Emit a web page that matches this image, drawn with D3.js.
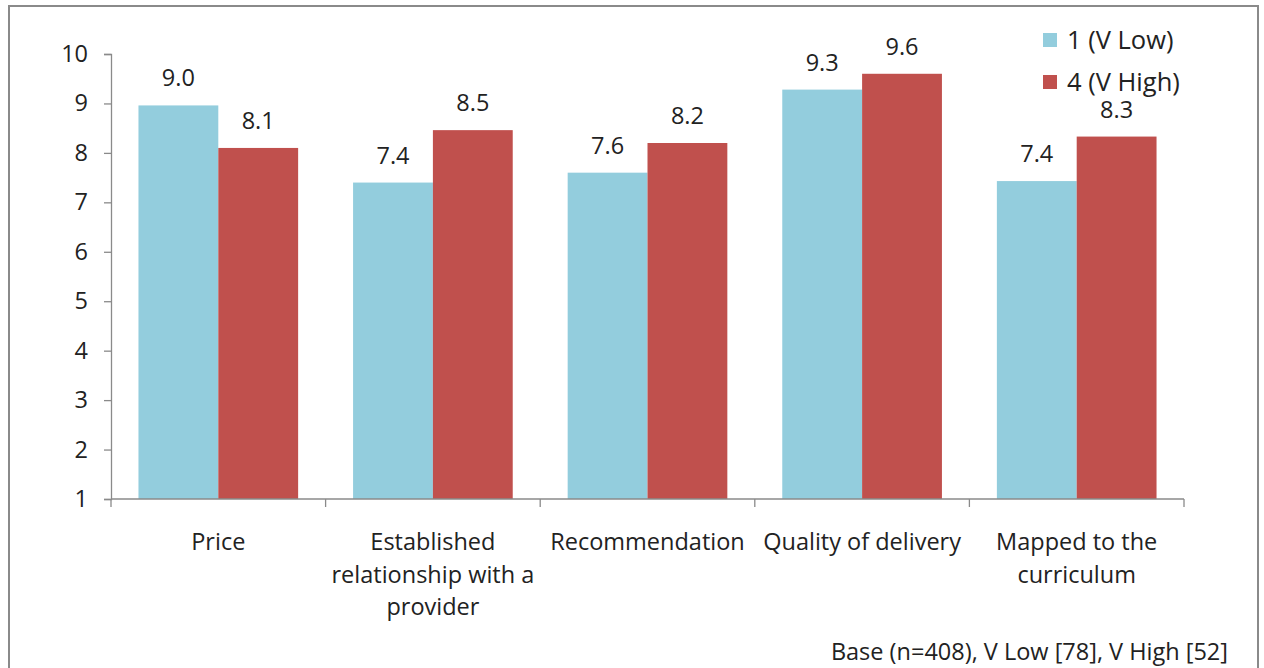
<!DOCTYPE html>
<html>
<head>
<meta charset="utf-8">
<script src="https://cdn.jsdelivr.net/npm/d3@7"></script>
<style>
  html, body { margin: 0; padding: 0; background: #fff; }
  svg { display: block; }
  text { font-family: "Open Sans", "Liberation Sans", sans-serif; fill: #222; }
</style>
</head>
<body>
<svg id="chart" width="1264" height="668"></svg>
<script>
const categories = ["Price", "Established relationship with a provider", "Recommendation", "Quality of delivery", "Mapped to the curriculum"];
const seriesNames = ["1 (V Low)", "4 (V High)"];
const vLow  = [8.96, 7.40, 7.60, 9.28, 7.43];
const vHigh = [8.10, 8.46, 8.20, 9.60, 8.33];
const yTicks = [1, 2, 3, 4, 5, 6, 7, 8, 9, 10];
const footnote = "Base (n=408), V Low [78], V High [52]";
const colors = ["#93CDDD", "#C0504D"];

(function () {
const svg = d3.select("#chart");
const FS = "23.5px";

// outer frame
svg.append("rect")
  .attr("x", 9).attr("y", 6).attr("width", 1249).attr("height", 700)
  .attr("fill", "none").attr("stroke", "#8a8a8a").attr("stroke-width", 2);

const pLeft = 111, pRight = 1184, pTop = 54, pBottom = 499;

const x = d3.scaleBand().domain(categories).range([pLeft, pRight]).padding(0);
const bw = x.bandwidth();
const pad = bw * 0.128;
const x1 = d3.scaleBand().domain(seriesNames).range([pad, bw - pad]).padding(0);
const y = d3.scaleLinear().domain([1, 10]).range([pBottom, pTop]);

// y axis
const yAxis = svg.append("g")
  .attr("transform", `translate(${pLeft},0)`)
  .call(d3.axisLeft(y).tickValues(yTicks).tickFormat(d3.format("d")).tickSize(7).tickPadding(16).tickSizeOuter(7));
yAxis.selectAll("path, line").attr("stroke", "#8a8a8a").attr("stroke-width", 1.3);
yAxis.selectAll("text").style("font-size", FS).style("font-family", "'Open Sans', sans-serif").attr("fill", "#222");

// bars
const data = categories.map((c, i) => ({ cat: c, vals: [vLow[i], vHigh[i]] }));
const groups = svg.append("g").selectAll("g").data(data).join("g")
  .attr("transform", d => `translate(${x(d.cat)},0)`);

groups.selectAll("rect").data(d => d.vals.map((v, j) => ({ s: seriesNames[j], v, j })))
  .join("rect")
  .attr("x", d => x1(d.s))
  .attr("width", x1.bandwidth())
  .attr("y", d => y(d.v))
  .attr("height", d => y(1) - y(d.v))
  .attr("fill", d => colors[d.j]);

groups.selectAll("text.val").data(d => d.vals.map((v, j) => ({ s: seriesNames[j], v, j })))
  .join("text")
  .attr("class", "val")
  .attr("x", d => x1(d.s) + x1.bandwidth() / 2)
  .attr("y", d => y(d.v) - 19)
  .attr("text-anchor", "middle")
  .style("font-size", FS)
  .text(d => d3.format(".1f")(d.v));

// x axis
const xg = svg.append("g");
xg.append("line")
  .attr("x1", pLeft).attr("x2", pRight).attr("y1", y(1)).attr("y2", y(1))
  .attr("stroke", "#8a8a8a").attr("stroke-width", 1.3);
const bounds = categories.map(c => x(c)).concat([x(categories[categories.length - 1]) + bw]);
xg.selectAll("line.tick").data(bounds).join("line")
  .attr("class", "tick")
  .attr("x1", d => d).attr("x2", d => d)
  .attr("y1", y(1)).attr("y2", y(1) + 8)
  .attr("stroke", "#8a8a8a").attr("stroke-width", 1.3);

// category labels with wrapping
const measure = svg.append("text").style("font-size", FS).attr("opacity", 0);
function wrap(str, maxW) {
  const words = str.split(" ");
  const lines = [];
  let cur = "";
  words.forEach(w => {
    const test = cur ? cur + " " + w : w;
    measure.text(test);
    if (measure.node().getComputedTextLength() > maxW && cur) {
      lines.push(cur);
      cur = w;
    } else cur = test;
  });
  if (cur) lines.push(cur);
  return lines;
}
categories.forEach(c => {
  const lines = wrap(c, bw - 2);
  const t = svg.append("text")
    .attr("text-anchor", "middle")
    .style("font-size", FS);
  lines.forEach((l, i) => {
    t.append("tspan")
      .attr("x", x(c) + bw / 2)
      .attr("y", 550 + i * 32.5)
      .text(l);
  });
});
measure.remove();

// legend
const legend = svg.append("g").attr("transform", "translate(1043,33)");
seriesNames.forEach((s, i) => {
  const g = legend.append("g").attr("transform", `translate(0,${i * 42})`);
  g.append("rect").attr("width", 14).attr("height", 14).attr("fill", colors[i]);
  g.append("text").attr("x", 24).attr("y", 7).attr("dy", "0.36em")
    .style("font-size", "25.5px").text(s);
});

// footnote
svg.append("text")
  .attr("x", 1228).attr("y", 660)
  .attr("text-anchor", "end")
  .style("font-size", "23.5px")
  .text(footnote);
})();
</script>
</body>
</html>
